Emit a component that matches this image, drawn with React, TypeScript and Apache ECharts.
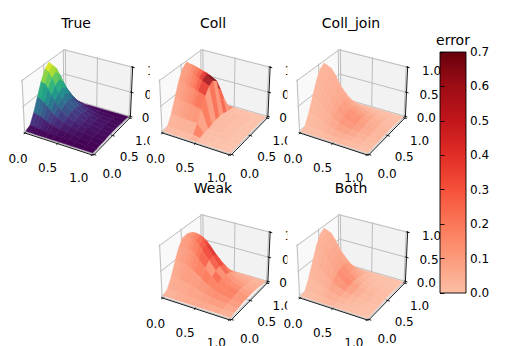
import React, { useEffect, useRef } from "react";
import * as echarts from "echarts";

const FONT = '"DejaVu Sans"';
const xGrid = [0, 0.05, 0.1, 0.15, 0.2, 0.25, 0.3, 0.4, 0.5, 0.6, 0.7, 0.85, 1];
const yGrid = [0, 0.1, 0.2, 0.3, 0.4, 0.5, 0.6, 0.7, 0.8, 0.9, 1];
const tickValues = [0, 0.5, 1];
const tickLabels = ["0.0", "0.5", "1.0"];
const errorTicks = [0, 0.1, 0.2, 0.3, 0.4, 0.5, 0.6, 0.7];
const panelTitles = ["True", "Coll", "Coll_join", "Weak", "Both"];

const zTrue = [
  [0,.05,.25,.5,.75,.93,1,.86,.56,.25,0],
  [0,.05,.24,.48,.72,.89,.96,.83,.54,.24,0],
  [0,.04,.21,.43,.64,.79,.85,.73,.48,.21,0],
  [0,.03,.17,.36,.53,.66,.71,.61,.40,.18,0],
  [0,.03,.14,.28,.43,.53,.57,.49,.33,.15,0],
  [0,.02,.11,.23,.34,.42,.46,.39,.27,.12,0],
  [0,.02,.09,.18,.27,.34,.36,.31,.21,.10,0],
  [0,.01,.06,.12,.17,.21,.22,.19,.13,.06,0],
  [0,.01,.04,.08,.12,.14,.15,.13,.09,.04,0],
  [0,.01,.03,.06,.08,.10,.10,.09,.06,.03,0],
  [0,.01,.02,.04,.06,.07,.07,.06,.04,.02,0],
  [0,0,.01,.02,.03,.04,.04,.04,.03,.01,0],
  [0,0,.01,.01,.02,.02,.02,.02,.01,.01,0],
];
const zColl = [
  [0,.03,.22,.48,.74,.93,1,.9,.6,.27,0],
  [0,.03,.22,.48,.73,.92,.98,.89,.59,.27,0],
  [0,.03,.21,.47,.72,.9,.96,.87,.58,.26,0],
  [0,.03,.21,.46,.70,.88,.93,.85,.56,.26,0],
  [0,.03,.20,.45,.69,.85,.91,.83,.55,.25,0],
  [0,.03,.20,.44,.67,.83,.88,.81,.54,.25,0],
  [0,.02,.19,.43,.65,.80,.85,.78,.52,.24,0],
  [0,.02,.18,.40,.60,.73,.78,.71,.48,.22,0],
  [0,0,.02,.04,.06,.08,.09,.08,.05,.02,0],
  [0,0,.01,.03,.05,.06,.06,.05,.03,.01,0],
  [0,0,.01,.02,.03,.04,.04,.03,.02,.01,0],
  [0,0,.01,.01,.02,.02,.02,.02,.01,.01,0],
  [0,0,0,.01,.01,.01,.01,.01,.01,0,0],
];
const zJoin = [
  [0,.04,.24,.49,.74,.92,.98,.85,.56,.25,0],
  [0,.04,.23,.48,.72,.89,.95,.83,.54,.24,0],
  [0,.04,.21,.43,.65,.80,.85,.74,.49,.22,0],
  [0,.03,.18,.37,.54,.67,.72,.62,.41,.18,0],
  [0,.03,.15,.29,.44,.54,.58,.50,.34,.15,0],
  [0,.02,.12,.24,.35,.43,.46,.40,.27,.12,0],
  [0,.02,.09,.19,.27,.33,.36,.31,.21,.10,0],
  [0,.01,.06,.12,.17,.21,.22,.19,.13,.06,0],
  [0,.01,.04,.08,.12,.14,.15,.13,.09,.04,0],
  [0,.01,.03,.06,.08,.10,.10,.09,.06,.03,0],
  [0,.01,.02,.04,.06,.07,.07,.06,.04,.02,0],
  [0,0,.01,.02,.03,.04,.04,.04,.03,.01,0],
  [0,0,.01,.01,.02,.02,.02,.02,.01,.01,0],
];
const zWeak = [
  [.01,.08,.26,.5,.72,.85,.86,.74,.48,.2,.02],
  [.01,.08,.27,.52,.75,.88,.9,.78,.52,.22,.02],
  [.01,.07,.27,.53,.76,.9,.93,.82,.56,.24,.02],
  [.01,.07,.26,.52,.75,.89,.93,.83,.57,.25,.02],
  [.01,.07,.25,.5,.72,.86,.9,.8,.56,.25,.02],
  [.01,.06,.23,.46,.67,.8,.84,.75,.52,.24,.02],
  [.01,.06,.2,.41,.6,.72,.76,.68,.47,.22,.02],
  [.01,.05,.16,.31,.46,.55,.58,.52,.36,.17,.02],
  [.01,.04,.12,.22,.32,.38,.4,.36,.25,.12,.02],
  [.01,.04,.09,.15,.21,.25,.26,.24,.17,.08,.02],
  [.01,.03,.07,.11,.14,.16,.17,.16,.11,.06,.02],
  [.01,.02,.05,.07,.09,.1,.1,.09,.07,.04,.01],
  [0,.02,.03,.05,.06,.06,.06,.05,.04,.02,.01],
];
const zBoth = [
  [0,.04,.24,.49,.74,.92,.98,.85,.56,.25,0],
  [0,.04,.23,.48,.72,.89,.95,.83,.54,.24,0],
  [0,.04,.21,.43,.65,.80,.86,.74,.49,.22,0],
  [0,.03,.18,.37,.55,.68,.73,.63,.42,.19,0],
  [0,.03,.15,.30,.45,.55,.59,.51,.35,.16,0],
  [0,.02,.12,.24,.36,.44,.47,.41,.28,.13,0],
  [0,.02,.10,.19,.29,.35,.37,.33,.22,.10,0],
  [0,.01,.06,.13,.18,.22,.23,.20,.14,.07,0],
  [0,.01,.04,.08,.12,.14,.14,.12,.08,.04,0],
  [0,.01,.03,.05,.08,.09,.09,.08,.05,.02,0],
  [0,0,.02,.04,.05,.06,.06,.05,.04,.02,0],
  [0,0,.01,.02,.03,.04,.04,.03,.02,.01,0],
  [0,0,.01,.01,.02,.02,.02,.02,.01,.01,0],
];

const errColl = [
  [.03,.05,.08,.1,.12,.13,.13,.12,.1,.07,.03],
  [.03,.05,.09,.11,.13,.14,.14,.13,.11,.07,.03],
  [.03,.06,.1,.13,.16,.17,.18,.17,.13,.08,.03],
  [.03,.06,.11,.15,.19,.22,.23,.21,.16,.1,.03],
  [.03,.06,.12,.17,.23,.28,.3,.28,.2,.12,.03],
  [.03,.06,.13,.2,.29,.4,.46,.4,.26,.14,.03],
  [.03,.06,.14,.24,.38,.58,.68,.58,.34,.16,.03],
  [.06,.2,.1,.22,.12,.25,.14,.28,.14,.2,.06],
  [.02,.02,.02,.03,.03,.03,.03,.03,.02,.02,.01],
  [.01,.02,.02,.03,.03,.03,.03,.03,.02,.02,.01],
  [.01,.01,.02,.02,.02,.02,.02,.02,.02,.01,.01],
  [0,.01,.01,.01,.01,.01,.01,.01,.01,.01,0],
  [0,0,0,0,.01,.01,.01,.01,0,0,0],
];
const errJoin = [
  [.02,.03,.04,.05,.05,.05,.05,.05,.04,.03,.02],
  [.02,.03,.04,.05,.05,.05,.05,.05,.04,.03,.02],
  [.02,.03,.04,.05,.06,.06,.06,.05,.04,.03,.02],
  [.02,.03,.05,.06,.06,.07,.06,.06,.05,.03,.02],
  [.02,.03,.05,.06,.07,.07,.07,.06,.05,.03,.02],
  [.02,.04,.06,.07,.08,.09,.08,.07,.05,.03,.02],
  [.02,.04,.06,.08,.1,.1,.09,.08,.06,.03,.02],
  [.03,.05,.08,.11,.14,.15,.13,.1,.07,.04,.02],
  [.03,.05,.09,.13,.17,.18,.14,.11,.07,.04,.02],
  [.03,.05,.08,.11,.14,.14,.12,.09,.06,.03,.02],
  [.02,.04,.06,.09,.1,.1,.09,.07,.05,.03,.02],
  [.02,.03,.04,.05,.06,.06,.05,.04,.03,.02,.01],
  [.01,.02,.02,.03,.03,.03,.03,.02,.02,.01,.01],
];
const errWeak = [
  [.06,.07,.08,.1,.11,.12,.12,.11,.1,.08,.06],
  [.06,.08,.09,.11,.13,.13,.14,.13,.11,.08,.06],
  [.06,.08,.1,.12,.14,.16,.18,.16,.12,.08,.06],
  [.07,.09,.11,.14,.17,.2,.22,.2,.14,.09,.06],
  [.08,.09,.12,.16,.2,.26,.3,.25,.16,.09,.06],
  [.08,.09,.12,.18,.24,.31,.37,.3,.18,.1,.06],
  [.08,.1,.12,.2,.28,.35,.42,.36,.2,.1,.06],
  [.08,.1,.14,.22,.14,.3,.36,.3,.14,.1,.06],
  [.09,.11,.15,.2,.26,.16,.28,.2,.12,.08,.05],
  [.08,.12,.17,.2,.2,.18,.14,.1,.08,.06,.05],
  [.08,.12,.16,.2,.21,.17,.13,.1,.08,.06,.05],
  [.06,.09,.12,.14,.14,.11,.09,.07,.06,.05,.04],
  [.04,.06,.07,.08,.08,.07,.06,.05,.05,.04,.03],
];
const errBoth = [
  [.02,.03,.04,.05,.05,.05,.05,.05,.04,.03,.02],
  [.02,.03,.04,.05,.06,.06,.06,.05,.04,.03,.02],
  [.02,.03,.05,.06,.07,.07,.07,.06,.05,.03,.02],
  [.02,.03,.05,.07,.08,.08,.08,.07,.05,.03,.02],
  [.02,.04,.05,.07,.09,.09,.09,.08,.06,.04,.02],
  [.03,.04,.06,.08,.1,.1,.1,.09,.07,.04,.02],
  [.03,.05,.07,.09,.12,.12,.11,.1,.08,.05,.03],
  [.05,.06,.09,.13,.21,.22,.17,.14,.11,.06,.03],
  [.03,.04,.07,.09,.16,.13,.08,.06,.05,.03,.02],
  [.02,.03,.05,.06,.1,.07,.05,.04,.03,.02,.02],
  [.02,.03,.03,.04,.06,.05,.04,.03,.02,.02,.01],
  [.01,.02,.02,.03,.04,.03,.03,.02,.02,.01,.01],
  [.01,.01,.02,.02,.02,.02,.02,.02,.01,.01,.01],
];

const surfaces = [
  { z: zTrue, err: null, smooth: true },
  { z: zColl, err: errColl, smooth: false },
  { z: zJoin, err: errJoin, smooth: true },
  { z: zWeak, err: errWeak, smooth: false },
  { z: zBoth, err: errBoth, smooth: true },
];
const panelCenters = [
  [78, 99.5],
  [215.5, 99.5],
  [353, 99.5],
  [215.5, 264.5],
  [353, 264.5],
];
const titleCenters = [76, 213, 351, 213, 351];
const titleTops = [16, 16, 16, 181, 181];

const viridis = ["#440154", "#482878", "#3e4a89", "#31688e", "#26828e", "#1f9e89", "#35b779", "#6ece58", "#b5de2b", "#fde725"];
const reds = ["#fff5f0", "#fee0d2", "#fcbba1", "#fc9272", "#fb6a4a", "#ef3b2c", "#cb181d", "#a50f15", "#67000d"];
const hex = (c: string) => [1, 3, 5].map((i) => parseInt(c.slice(i, i + 2), 16));
const rampRgb = (stops: string[], t: number) => {
  const u = Math.max(0, Math.min(1, t)) * (stops.length - 1);
  const i = Math.min(stops.length - 2, Math.floor(u));
  const a = hex(stops[i]);
  const b = hex(stops[i + 1]);
  const f = u - i;
  return a.map((v, k) => v + (b[k] - v) * f);
};
const css = (c: number[]) => `rgb(${c.map((v) => Math.round(v)).join(",")})`;
const RED_START = 0.24;
const LIGHTEN = 0.1;
const errorRgb = (e: number) => rampRgb(reds, RED_START + (1 - RED_START) * (e / 0.7));
const errorColor = (e: number) => css(errorRgb(e));
const surfaceColor = (e: number) => css(errorRgb(e).map((v) => v + (255 - v) * LIGHTEN));

// matplotlib-style 3D camera
const box = [1.1429, 1.1429, 0.8572];
const el = (30 * Math.PI) / 180;
const az = (-60 * Math.PI) / 180;
const DIST = 10;
const w = [Math.cos(el) * Math.cos(az), Math.cos(el) * Math.sin(az), Math.sin(el)];
const uRaw = [-w[1], w[0], 0];
const uLen = Math.hypot(uRaw[0], uRaw[1]);
const u = [uRaw[0] / uLen, uRaw[1] / uLen, 0];
const v = [w[1] * u[2] - w[2] * u[1], w[2] * u[0] - w[0] * u[2], w[0] * u[1] - w[1] * u[0]];
const dot = (a: number[], b: number[]) => a[0] * b[0] + a[1] * b[1] + a[2] * b[2];
const project = (x: number, y: number, z: number) => {
  const p = [(x - 0.5) * box[0], (y - 0.5) * box[1], (z - 0.5) * box[2]];
  const d = DIST - dot(p, w);
  return { x: dot(p, u) / d, y: dot(p, v) / d, depth: d };
};
const P = (x: number, y: number, z: number) => {
  const q = project(x, y, z);
  return [q.x, q.y];
};

const LO = -1 / 48;
const HI = 1 + 1 / 48;
const VIEW_MIN = -0.095;
const VIEW_MAX = 0.09;
const SIDE = 124;
const BG_EXTRA = 2;

function surfaceData(z: number[][], err: number[][] | null, smooth: boolean) {
  const out: any[] = [];
  const avg = (t: number[][], i: number, j: number) => (t[i][j] + t[i + 1][j] + t[i + 1][j + 1] + t[i][j + 1]) / 4;
  for (let i = 0; i < xGrid.length - 1; i++) {
    for (let j = 0; j < yGrid.length - 1; j++) {
      const c = [
        [xGrid[i], yGrid[j], z[i][j]],
        [xGrid[i + 1], yGrid[j], z[i + 1][j]],
        [xGrid[i + 1], yGrid[j + 1], z[i + 1][j + 1]],
        [xGrid[i], yGrid[j + 1], z[i][j + 1]],
      ];
      const q = c.map((a) => project(a[0], a[1], a[2]));
      const depth = q.reduce((s, a) => s + a.depth, 0) / 4;
      const table = err || z;
      const colorValue = smooth ? avg(table, i, j) : table[i][j];
      out.push({ depth, value: [q[0].x, q[0].y, q[1].x, q[1].y, q[2].x, q[2].y, q[3].x, q[3].y, colorValue] });
    }
  }
  out.sort((a, b) => b.depth - a.depth);
  return out.map((d) => d.value);
}

function scaffold(api: any) {
  const C = (p: number[]) => api.coord(p);
  const poly = (pts: number[][], fill: string) => ({
    type: "polygon",
    shape: { points: pts.map((p) => C(P(p[0], p[1], p[2]))) },
    style: { fill, stroke: "none" },
    silent: true,
  });
  const line = (pts: number[][], stroke: string, lineWidth: number) => ({
    type: "polyline",
    shape: { points: pts.map((p) => C(P(p[0], p[1], p[2]))) },
    style: { fill: "none", stroke, lineWidth },
    silent: true,
  });
  const tl = C([VIEW_MIN, VIEW_MAX]);
  const br = C([VIEW_MAX, VIEW_MIN]);
  const kids: any[] = [
    {
      type: "rect",
      shape: { x: tl[0] - BG_EXTRA, y: tl[1], width: br[0] - tl[0] + BG_EXTRA, height: br[1] - tl[1] },
      style: { fill: "#fff" },
      silent: true,
    },
    poly([[LO, LO, LO], [LO, HI, LO], [LO, HI, HI], [LO, LO, HI]], "#f9f9f9"),
    poly([[LO, HI, LO], [HI, HI, LO], [HI, HI, HI], [LO, HI, HI]], "#f2f2f2"),
    poly([[LO, LO, LO], [HI, LO, LO], [HI, HI, LO], [LO, HI, LO]], "#f5f5f5"),
  ];
  const grid = "#bdbdbd";
  const label = (t: string, x: number, y: number, z: number, dx: number, dy: number) => {
    const c = C(P(x, y, z));
    return {
      type: "text",
      style: { text: t, x: c[0] + dx, y: c[1] + dy, fill: "#000", font: `12px ${FONT}`, align: "center", verticalAlign: "middle" },
      silent: true,
    };
  };
  tickValues.forEach((t) => {
    kids.push(line([[t, LO, LO], [t, HI, LO], [t, HI, HI]], grid, 1));
    kids.push(line([[HI, t, LO], [LO, t, LO], [LO, t, HI]], grid, 1));
    kids.push(line([[LO, LO, t], [LO, HI, t], [HI, HI, t]], grid, 1));
  });
  kids.push(line([[LO, LO, LO], [HI, LO, LO]], "#000", 0.9));
  kids.push(line([[HI, LO, LO], [HI, HI, LO]], "#000", 0.9));
  kids.push(line([[HI, HI, LO], [HI, HI, HI]], "#000", 0.9));
  tickValues.forEach((t, i) => {
    kids.push(line([[t, LO - 0.03, LO], [t, LO + 0.02, LO]], "#000", 0.9));
    kids.push(line([[HI - 0.02, t, LO], [HI + 0.03, t, LO]], "#000", 0.9));
    kids.push(line([[HI - 0.02, HI, t], [HI + 0.03, HI, t]], "#000", 0.9));
    kids.push(label(tickLabels[i], t, LO, LO, -7 - 6 * t, 25.5 - 2 * t));
    kids.push(label(tickLabels[i], HI, t, LO, 18 - 3 * t, 19.5 + 3 * t));
    kids.push(label(tickLabels[i], HI, HI, t, 21 + 3 * t, 2 + 1.5 * t));
  });
  return { type: "group", children: kids };
}

function buildOption() {
  const grids: any[] = [];
  const xAxes: any[] = [];
  const yAxes: any[] = [];
  const series: any[] = [];
  panelCenters.forEach(([cx, cy], k) => {
    const scale = SIDE / (VIEW_MAX - VIEW_MIN);
    grids.push({ left: cx + VIEW_MIN * scale, top: cy - VIEW_MAX * scale, width: SIDE, height: SIDE, show: false });
    xAxes.push({ type: "value", gridIndex: k, min: VIEW_MIN, max: VIEW_MAX, show: false });
    yAxes.push({ type: "value", gridIndex: k, min: VIEW_MIN, max: VIEW_MAX, show: false });
    series.push({
      type: "custom",
      xAxisIndex: k,
      yAxisIndex: k,
      z: 2 + k * 2,
      clip: false,
      silent: true,
      data: [[0, 0]],
      encode: { x: 0, y: 1 },
      renderItem: (_: any, api: any) => scaffold(api),
    });
    const isTrue = !surfaces[k].err;
    series.push({
      type: "custom",
      xAxisIndex: k,
      yAxisIndex: k,
      z: 3 + k * 2,
      clip: false,
      silent: true,
      data: surfaceData(surfaces[k].z, surfaces[k].err, surfaces[k].smooth),
      encode: { x: [0, 2, 4, 6], y: [1, 3, 5, 7] },
      renderItem: (_: any, api: any) => {
        const points = [0, 2, 4, 6].map((i) => api.coord([api.value(i), api.value(i + 1)]));
        const value = api.value(8);
        const fill = isTrue ? css(rampRgb(viridis, value)) : surfaceColor(value);
        return { type: "polygon", shape: { points }, style: { fill, stroke: fill, lineWidth: 0.5 } };
      },
    });
  });
  const cb = panelCenters.length;
  grids.push({ left: 440, top: 52, width: 26, height: 241, show: false });
  xAxes.push({ type: "value", gridIndex: cb, min: 0, max: 1, show: false });
  yAxes.push({
    type: "value",
    gridIndex: cb,
    position: "right",
    min: 0,
    max: 0.7,
    interval: 0.1,
    z: 60,
    axisLine: { show: false },
    axisTick: { show: true, length: 4.5, lineStyle: { color: "#000", width: 0.9 } },
    splitLine: { show: false },
    axisLabel: { color: "#000", fontFamily: FONT, fontSize: 12, margin: 4, formatter: (val: number) => val.toFixed(1) },
  });
  const barStops = errorTicks
    .slice()
    .reverse()
    .map((e) => ({ offset: 1 - e / 0.7, color: errorColor(e) }));
  series.push({
    type: "custom",
    xAxisIndex: cb,
    yAxisIndex: cb,
    z: 50,
    clip: false,
    silent: true,
    data: [[0, 0, 1, 0.7]],
    encode: { x: [0, 2], y: [1, 3] },
    renderItem: (_: any, api: any) => {
      const a = api.coord([api.value(0), api.value(3)]);
      const b = api.coord([api.value(2), api.value(1)]);
      return {
        type: "rect",
        shape: { x: a[0], y: a[1], width: b[0] - a[0], height: b[1] - a[1] },
        style: {
          fill: new echarts.graphic.LinearGradient(0, 0, 0, 1, barStops),
          stroke: "#000",
          lineWidth: 0.9,
        },
      };
    },
  });
  const title = panelTitles.map((text, k) => ({
    text,
    left: titleCenters[k],
    top: titleTops[k],
    textAlign: "center",
    padding: 0,
    z: 40,
    textStyle: { color: "#000", fontFamily: FONT, fontSize: 14, fontWeight: "normal" },
  }));
  title.push({
    text: "error",
    left: 453,
    top: 33,
    textAlign: "center",
    padding: 0,
    z: 40,
    textStyle: { color: "#000", fontFamily: FONT, fontSize: 14, fontWeight: "normal" },
  });
  return { animation: false, backgroundColor: "#fff", title, grid: grids, xAxis: xAxes, yAxis: yAxes, series };
}

export default function App() {
  const ref = useRef<HTMLDivElement>(null);
  useEffect(() => {
    document.body.style.margin = "0";
    const chart = echarts.init(ref.current!, null, { renderer: "svg" });
    chart.setOption(buildOption() as any);
    return () => chart.dispose();
  }, []);
  return <div ref={ref} style={{ width: 518, height: 346 }} />;
}
